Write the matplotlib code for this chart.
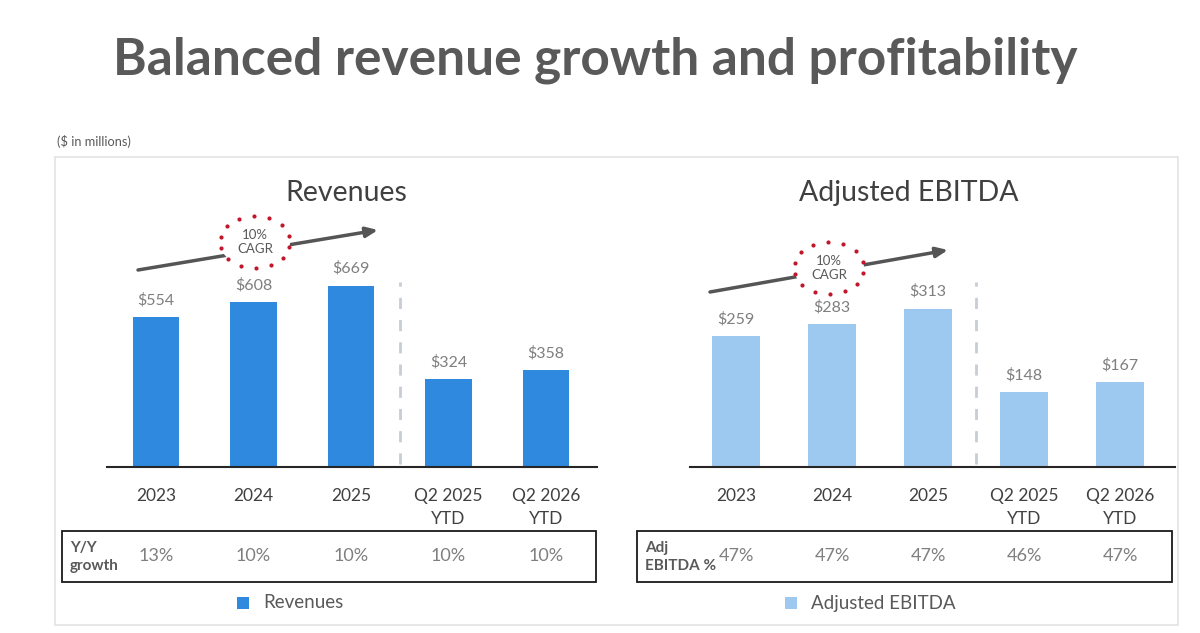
import matplotlib
matplotlib.use("Agg")
from matplotlib import pyplot as plt
from matplotlib.patches import Rectangle, Ellipse
from matplotlib.transforms import blended_transform_factory
import numpy as np

categories = ["2023", "2024", "2025", "Q2 2025\nYTD", "Q2 2026\nYTD"]
revenues = [554, 608, 669, 324, 358]
adj_ebitda = [259, 283, 313, 148, 167]
yy_growth = ["13%", "10%", "10%", "10%", "10%"]
ebitda_margin = ["47%", "47%", "47%", "46%", "47%"]

plt.rcParams["font.family"] = ["Lato", "DejaVu Sans"]

W, H = 1200, 633
fig = plt.figure(figsize=(12, 6.33), dpi=100)

# overlay in pixel coordinates for the slide decorations
ov = fig.add_axes([0, 0, 1, 1])
ov.set_xlim(0, W)
ov.set_ylim(H, 0)
ov.axis("off")


def px_axes(x0, x1, ytop, ybot):
    return fig.add_axes([x0 / W, 1 - ybot / H, (x1 - x0) / W, (ybot - ytop) / H])


ov.text(595, 60, "Balanced revenue growth and profitability", ha="center", va="center",
        fontsize=37, fontweight="bold", color="#595959")
ov.text(57, 142, "($ in millions)", ha="left", va="center", fontsize=9.2, color="#595959")
ov.add_patch(Rectangle((55, 157), 1123, 468, fill=False, edgecolor="#e3e3e3", lw=1.2))

panels = [
    dict(vals=revenues, color="#2e89df", title="Revenues", title_x=346, x0=107, x1=597,
         c0=156, step=97.5, ppu=0.271, width=0.48, row_label="Y/Y\ngrowth", row=yy_growth,
         box=(62, 596), arrow=((138, 270), (378, 230)), circle=(255, 242),
         legend="Revenues", leg_x=237),
    dict(vals=adj_ebitda, color="#9dc8ef", title="Adjusted EBITDA", title_x=909, x0=690,
         x1=1175, c0=736, step=96, ppu=0.506, width=0.5, row_label="Adj\nEBITDA %",
         row=ebitda_margin, box=(637, 1172), arrow=((710, 292), (948, 250)),
         circle=(829, 268), legend="Adjusted EBITDA", leg_x=785),
]

base_y = 467
for p in panels:
    ax = px_axes(p["x0"], p["x1"], 167, base_y)
    x = list(range(len(categories)))
    ax.bar(x, p["vals"], width=p["width"], color=p["color"], zorder=2)
    ax.set_xlim((p["x0"] - p["c0"]) / p["step"], (p["x1"] - p["c0"]) / p["step"])
    ax.set_ylim(0, (base_y - 167) / p["ppu"])
    for s in ["top", "right", "left"]:
        ax.spines[s].set_visible(False)
    ax.spines["bottom"].set_color("#262626")
    ax.spines["bottom"].set_linewidth(1.5)
    ax.set_yticks([])
    ax.set_xticks(x)
    ax.set_xticklabels(categories, fontsize=12.5, color="#404040", linespacing=1.55)
    ax.tick_params(axis="x", length=0, pad=15)
    ax.patch.set_alpha(0)
    for i, v in enumerate(p["vals"]):
        ax.annotate(f"${v}", (i, v), xytext=(0, 7), textcoords="offset points",
                    ha="center", va="bottom", fontsize=11.5, color="#7f7f7f")
    # separator between full years and YTD
    ax.axvline(2.5, ymin=0.01, ymax=(base_y - 282) / (base_y - 167), color="#c8ccd4",
               lw=2, ls=(0, (4, 4)), zorder=1)

    ov.text(p["title_x"], 193, p["title"], ha="center", va="center", fontsize=20.5,
            color="#404040")

    # CAGR arrow and dotted circle
    (ax0, ay0), (ax1, ay1) = p["arrow"]
    ov.annotate("", xy=(ax1, ay1), xytext=(ax0, ay0),
                arrowprops=dict(arrowstyle="-|>,head_length=0.7,head_width=0.3",
                                color="#555555", lw=2.5, shrinkA=0, shrinkB=0))
    ccx, ccy = p["circle"]
    ov.add_patch(Ellipse((ccx, ccy), 70, 52, facecolor="white", edgecolor="none", zorder=5))
    t = np.linspace(0, 2 * np.pi, 15)[:-1] + 0.2
    ov.scatter(ccx + 35 * np.cos(t), ccy + 26 * np.sin(t), s=9, color="#c0172b",
               linewidths=0, zorder=6)
    ov.text(ccx, ccy, "10%\nCAGR", ha="center", va="center", fontsize=9.5,
            color="#595959", zorder=6, linespacing=1.15)

    # table row below the chart
    bx0, bx1 = p["box"]
    ov.add_patch(Rectangle((bx0, 531), bx1 - bx0, 51, fill=False, edgecolor="#1a1a1a", lw=1.3))
    ov.text(bx0 + 8, 557, p["row_label"], ha="left", va="center", fontsize=11,
            fontweight="bold", color="#595959", linespacing=1.45)
    tr = blended_transform_factory(ax.transData, ov.transData)
    for i, s in enumerate(p["row"]):
        ax.text(i, 556, s, transform=tr, ha="center", va="center", fontsize=13,
                color="#7f7f7f", clip_on=False)

    # legend
    lx = p["leg_x"]
    ov.add_patch(Rectangle((lx, 597), 12, 12, facecolor=p["color"], edgecolor="none"))
    ov.text(lx + 26, 603, p["legend"], ha="left", va="center", fontsize=13.5, color="#595959")

fig.savefig("out.png", dpi=100, facecolor="white")
